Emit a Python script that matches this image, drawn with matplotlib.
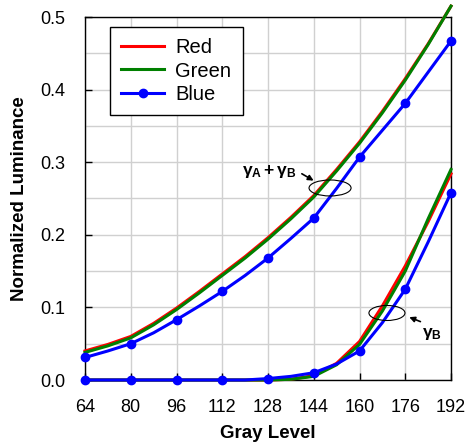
import matplotlib
matplotlib.use("Agg")
import matplotlib.pyplot as plt
from matplotlib.patches import Ellipse
from matplotlib.ticker import MultipleLocator

plt.rcParams['font.family'] = ['Liberation Sans', 'DejaVu Sans']
plt.rcParams['mathtext.fontset'] = 'custom'
plt.rcParams['mathtext.rm'] = 'Liberation Sans'
plt.rcParams['mathtext.bf'] = 'Liberation Sans:bold'
plt.rcParams['mathtext.it'] = 'Liberation Sans:italic'

# ---- data ----
gray = [64, 72, 80, 88, 96, 104, 112, 120, 128, 136, 144, 152, 160, 168, 176, 184, 192]

# gamma_A + gamma_B curves
red_ab = [0.040, 0.049, 0.060, 0.078, 0.099, 0.122, 0.146, 0.170, 0.196, 0.224, 0.254, 0.290, 0.328, 0.370, 0.415, 0.463, 0.515]
green_ab = [0.038, 0.047, 0.058, 0.076, 0.097, 0.120, 0.144, 0.168, 0.194, 0.222, 0.252, 0.288, 0.326, 0.368, 0.413, 0.462, 0.515]
blue_ab = [0.031, 0.040, 0.050, 0.065, 0.083, 0.102, 0.122, 0.144, 0.168, 0.195, 0.223, 0.264, 0.307, 0.344, 0.381, 0.424, 0.467]

# gamma_B curves
red_b = [0, 0, 0, 0, 0, 0, 0, 0, 0, 0.001, 0.006, 0.023, 0.053, 0.102, 0.157, 0.218, 0.284]
green_b = [0, 0, 0, 0, 0, 0, 0, 0, 0, 0.001, 0.005, 0.021, 0.049, 0.095, 0.150, 0.222, 0.290]
blue_b = [0, 0, 0, 0, 0, 0, 0, 0, 0.002, 0.005, 0.010, 0.022, 0.040, 0.079, 0.125, 0.190, 0.258]

xticks = [64, 80, 96, 112, 128, 144, 160, 176, 192]
yticks = [0.0, 0.1, 0.2, 0.3, 0.4, 0.5]

W, H = 469, 444
fig = plt.figure(figsize=(W / 100, H / 100), dpi=100)
ax = fig.add_axes([85 / W, (H - 380) / H, 366 / W, 363 / H])

lw = 2.2
ms = 6
ax.plot(gray, red_b, color='#ff0000', lw=lw, clip_on=False, zorder=3)
ax.plot(gray, green_b, color='#008000', lw=lw, clip_on=False, zorder=3)
ax.plot(gray, blue_b, color='#0000ff', lw=lw, marker='o', ms=ms, markevery=2, clip_on=False, zorder=4)

ax.plot(gray, red_ab, color='#ff0000', lw=lw, clip_on=False, zorder=3, label='Red')
ax.plot(gray, green_ab, color='#008000', lw=lw, clip_on=False, zorder=3, label='Green')
ax.plot(gray, blue_ab, color='#0000ff', lw=lw, marker='o', ms=ms, markevery=2, clip_on=False, zorder=4, label='Blue')

ax.set_xlim(64, 192)
ax.set_ylim(0, 0.5)
ax.set_xticks(xticks)
ax.set_xticklabels([str(t) for t in xticks])
ax.set_yticks(yticks)
ax.set_yticklabels([f"{t:.1f}" for t in yticks])
ax.yaxis.set_minor_locator(MultipleLocator(0.05))
ax.tick_params(axis='both', which='major', direction='in', length=5, width=1, labelsize=13, pad=14, colors='black')
ax.tick_params(axis='y', which='minor', length=0)
ax.grid(True, which='both', color='#d0d0d0', lw=1)
ax.set_axisbelow(True)
for s in ax.spines.values():
    s.set_color('black')
    s.set_linewidth(1)

ax.set_xlabel('Gray Level', fontsize=13.5, fontweight='bold', labelpad=6)
ax.set_ylabel('Normalized Luminance', fontsize=13.5, fontweight='bold', labelpad=9)

leg = ax.legend(loc='upper left', bbox_to_anchor=(25 / 366, 1 - 10 / 363), borderaxespad=0,
                fontsize=14.5, frameon=True, fancybox=False, edgecolor='black', framealpha=1,
                handlelength=2.15, handletextpad=0.55, labelspacing=0.22, borderpad=0.55)
leg.get_frame().set_linewidth(1)
leg.set_zorder(10)

# annotations
ax.add_patch(Ellipse((149.7, 0.2645), 14.7, 0.022, fill=False, edgecolor='black', lw=0.8, zorder=5))
ax.annotate('', xy=(144.8, 0.2727), xytext=(139.0, 0.286),
            arrowprops=dict(arrowstyle='-|>', color='black', lw=1.2, mutation_scale=8), zorder=5)
ax.text(128.5, 0.287, r'$\mathbf{\gamma_A + \gamma_B}$', fontsize=12.5, ha='center', va='center', zorder=5)

ax.add_patch(Ellipse((169.6, 0.0923), 12.6, 0.0207, fill=False, edgecolor='black', lw=0.8, zorder=5))
ax.annotate('', xy=(176.5, 0.088), xytext=(182.2, 0.079),
            arrowprops=dict(arrowstyle='-|>', color='black', lw=1.2, mutation_scale=8), zorder=5)
ax.text(185.2, 0.064, r'$\mathbf{\gamma_B}$', fontsize=12.5, ha='center', va='center', zorder=5)

fig.savefig('out.png', dpi=100)
